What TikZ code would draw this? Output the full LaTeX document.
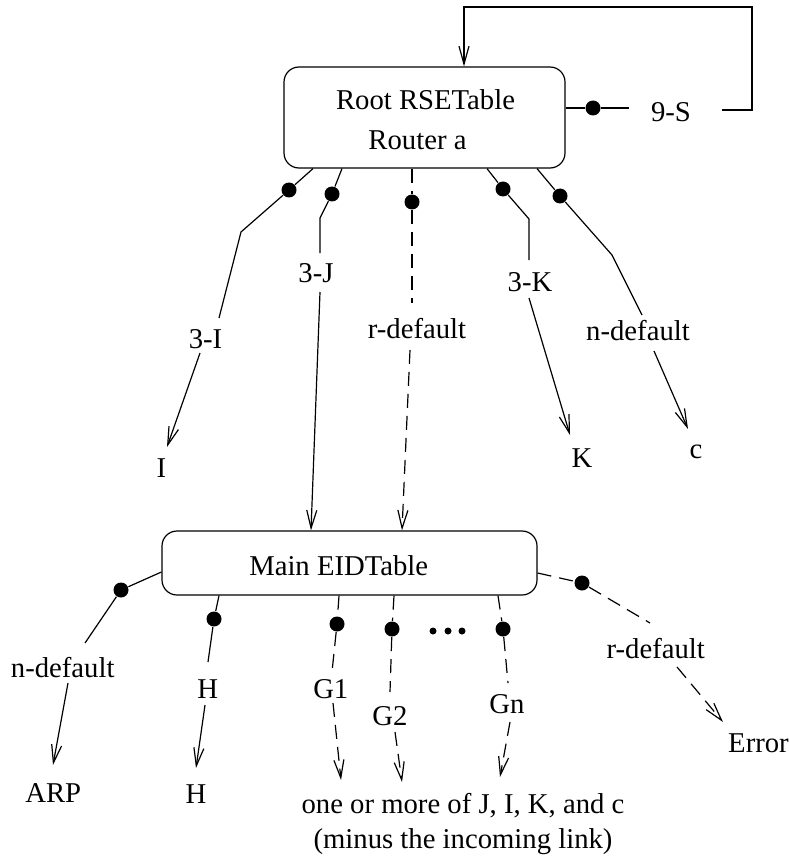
\documentclass[tikz,border=0pt]{standalone}
\usepackage{fontspec}
\setmainfont{Liberation Serif}
\usetikzlibrary{arrows.meta}
\begin{document}
\begin{tikzpicture}[x=0.5pt,y=-0.5pt,
  line width=0.6pt,
  box/.style={draw, rounded corners=7.5pt, inner sep=0pt},
  txt/.style={anchor=base, inner sep=0pt, font=\fontsize{14.35}{17}\selectfont},
  blob/.style={circle, fill, inner sep=0pt, minimum size=7.5pt},
  pip/.style={circle, fill, inner sep=0pt, minimum size=3.5pt},
  arr/.style={-{Straight Barb[length=9pt,width=5pt]}},
  dsh/.style={dash pattern=on 7pt off 4pt}]
\useasboundingbox (0,0) rectangle (790,866);

% the two tables
\node[box, minimum width=140.5pt, minimum height=50.5pt] (root) at (424.5,117.5) {};
\node[box, minimum width=187.5pt, minimum height=32pt] (main) at (349.5,563) {};
\node[txt] (rootA) at (425.5,110) {Root RSETable};
\node[txt] (rootB) at (417.5,150) {Router a};
\node[txt] (mainT) at (338.7,575) {Main EIDTable};

% 9-S loop back into the root table
\node[blob] (dS) at (593,108) {};
\coordinate (sB) at (629,108);
\node[txt] (lS) at (671,121.7) {9-S};
\coordinate (sC) at (722,110);
\coordinate (sD) at (752,110);
\coordinate (sE) at (752,7);
\coordinate (sF) at (464,7);
\draw (root.east |- dS) -- (dS) -- (sB);
\draw[arr] (sC) -- (sD) -- (sE) -- (sF) -- (root.north -| sF);

% 3-I
\coordinate (rI) at ([xshift=-55.75pt]root.south);
\node[blob] (dI) at (289,190) {};
\coordinate (bI) at (241,232);
\coordinate (gI1) at (219,318);
\coordinate (gI2) at (200,353);
\coordinate (tI) at (167,447);
\node[txt] (l3I) at (205.5,348) {3-I};
\node[txt] (nI) at (161.5,477) {I};
\draw (rI) -- (dI) -- (bI) -- (gI1);
\draw[arr] (gI2) -- (tI);

% 3-J
\coordinate (rJ) at ([xshift=-41.25pt]root.south);
\node[blob] (dJ) at (332,194) {};
\coordinate (bJ) at (320,218);
\coordinate (gJ1) at (320,253);
\coordinate (gJ2) at (320,292);
\node[txt] (l3J) at (316,282) {3-J};
\draw (rJ) -- (dJ) -- (bJ) -- (gJ1);
\draw[arr] (gJ2) -- ([xshift=-19.25pt]main.north);

% r-default from the root table
\coordinate (rR) at ([xshift=-6.25pt]root.south);
\node[blob] (dR) at (412,202) {};
\coordinate (gR1) at (412,303);
\coordinate (gR2) at (410,350);
\node[txt] (lR) at (417,338) {r-default};
\draw[dsh] (rR) -- (dR) -- (gR1);
\draw[dsh,arr] (gR2) -- ([xshift=26.25pt]main.north);

% 3-K
\coordinate (rK) at ([xshift=31.25pt]root.south);
\node[blob] (dK) at (503,189) {};
\coordinate (bK) at (529,219);
\coordinate (gK1) at (529,260);
\coordinate (gK2) at (529,298);
\coordinate (tK) at (570,435);
\node[txt] (l3K) at (530,291) {3-K};
\node[txt] (nK) at (582,467) {K};
\draw (rK) -- (dK) -- (bK) -- (gK1);
\draw[arr] (gK2) -- (tK);

% n-default from the root table
\coordinate (rN) at ([xshift=56.25pt]root.south);
\node[blob] (dN) at (560,196) {};
\coordinate (bN) at (612,255);
\coordinate (gN1) at (642,315);
\coordinate (gN2) at (654,351);
\coordinate (tN) at (688,429);
\node[txt] (lN) at (638,340) {n-default};
\node[txt] (nC) at (696,458) {c};
\draw (rN) -- (dN) -- (bN) -- (gN1);
\draw[arr] (gN2) -- (tN);

% n-default from the main table
\coordinate (mA) at ([yshift=-4.5pt]main.west);
\node[blob] (dA) at (121,590) {};
\coordinate (gA1) at (85,643);
\coordinate (gA2) at (68,683);
\coordinate (tA) at (53,765);
\node[txt] (lA) at (62.7,677) {n-default};
\node[txt] (nARP) at (53.3,802) {ARP};
\draw (mA) -- (dA) -- (gA1);
\draw[arr] (gA2) -- (tA);

% H
\coordinate (mH) at ([xshift=-65.25pt]main.south);
\node[blob] (dH) at (214,619) {};
\coordinate (gH1) at (208,662);
\coordinate (gH2) at (205,705);
\coordinate (tH) at (196,768);
\node[txt] (lH) at (207.8,698) {H};
\node[txt] (nH) at (196,803) {H};
\draw (mH) -- (dH) -- (gH1);
\draw[arr] (gH2) -- (tH);

% G1, G2, ..., Gn
\coordinate (m1) at ([xshift=-5.25pt]main.south);
\node[blob] (d1) at (337,624) {};
\coordinate (g11) at (332,672);
\coordinate (g12) at (333,703);
\coordinate (t1) at (341,780);
\node[txt] (lG1) at (330.8,698) {G1};
\draw[dsh] (m1) -- (d1) -- (g11);
\draw[dsh,arr] (g12) -- (t1);

\coordinate (m2) at ([xshift=22.25pt]main.south);
\node[blob] (d2) at (392,629) {};
\coordinate (g21) at (390,692);
\coordinate (g22) at (395,732);
\coordinate (t2) at (402,782);
\node[txt] (lG2) at (390,725) {G2};
\draw[dsh] (m2) -- (d2) -- (g21);
\draw[dsh,arr] (g22) -- (t2);

\node[pip] (e1) at (433,631) {};
\node[pip] (e2) at (448,631) {};
\node[pip] (e3) at (462,631) {};

\coordinate (mn) at ([xshift=74.25pt]main.south);
\node[blob] (dn) at (503,629) {};
\coordinate (gn1) at (508,683);
\coordinate (gn2) at (510,722);
\coordinate (tn) at (500,777);
\node[txt] (lGn) at (507,713) {Gn};
\draw[dsh] (mn) -- (dn) -- (gn1);
\draw[dsh,arr] (gn2) -- (tn);

% r-default from the main table
\coordinate (mE) at ([yshift=-5pt]main.east);
\node[blob] (dE) at (582,583) {};
\coordinate (gE1) at (650,623);
\coordinate (gE2) at (677,667);
\coordinate (tE) at (723,722);
\node[txt] (lE) at (655.8,658) {r-default};
\node[txt] (nE) at (758.5,752) {Error};
\draw[dsh] (mE) -- (dE) -- (gE1);
\draw[dsh,arr] (gE2) -- (tE);

% note under the G links
\node[txt] (note1) at (463,813) {one or more of J, I, K, and c};
\node[txt] (note2) at (463,848) {(minus the incoming link)};
\end{tikzpicture}
\end{document}
